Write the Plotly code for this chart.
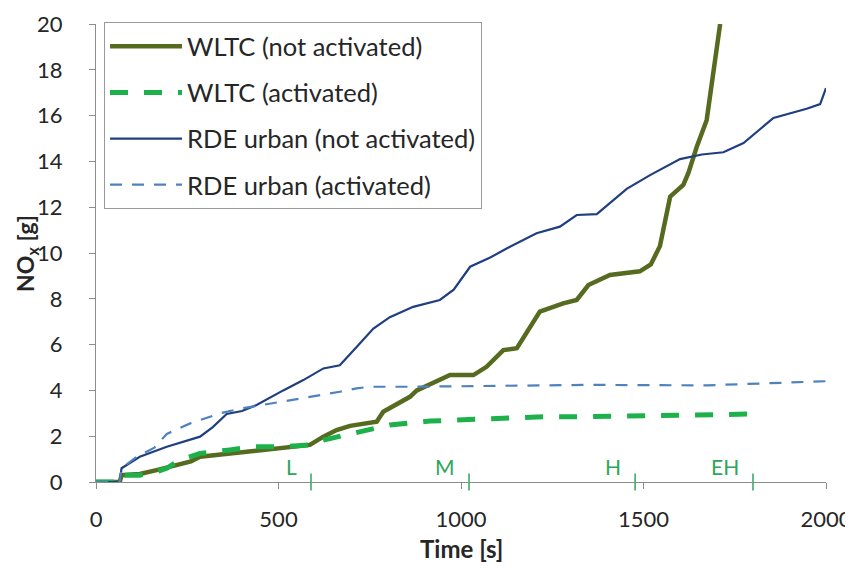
import plotly.graph_objects as go

# ---- data (time [s], cumulative NOx [g]) ----
wltc_na_t = [0, 65, 70, 120, 166, 221, 260, 285, 367, 430, 486, 586, 623, 659, 696, 740, 769, 787, 860, 879, 933, 970, 1034, 1070, 1116, 1153, 1216, 1250, 1280, 1317, 1349, 1408, 1490, 1520, 1545, 1573, 1609, 1623, 1646, 1673, 1710]
wltc_na_v = [0, 0, 0.3, 0.35, 0.52, 0.74, 0.9, 1.1, 1.25, 1.35, 1.47, 1.62, 1.98, 2.27, 2.45, 2.55, 2.63, 3.07, 3.72, 4.0, 4.38, 4.67, 4.67, 5.03, 5.76, 5.84, 7.44, 7.65, 7.8, 7.95, 8.6, 9.04, 9.2, 9.5, 10.3, 12.46, 12.97, 13.5, 14.64, 15.8, 20.0]

wltc_a_t = [0, 65, 70, 120, 166, 194, 230, 285, 367, 431, 513, 586, 623, 687, 714, 805, 915, 1006, 1116, 1225, 1335, 1460, 1618, 1800]
wltc_a_v = [0, 0, 0.3, 0.3, 0.45, 0.6, 0.96, 1.25, 1.4, 1.54, 1.54, 1.62, 1.83, 2.05, 2.13, 2.49, 2.66, 2.71, 2.78, 2.85, 2.85, 2.88, 2.93, 2.97]

rde_na_t = [0, 65, 70, 120, 194, 240, 285, 320, 358, 400, 440, 513, 568, 623, 668, 714, 760, 805, 869, 942, 980, 1025, 1080, 1125, 1207, 1271, 1317, 1372, 1454, 1518, 1600, 1660, 1719, 1774, 1856, 1947, 1984, 2000]
rde_na_v = [0, 0, 0.6, 1.1, 1.54, 1.75, 1.98, 2.4, 2.97, 3.1, 3.36, 4.0, 4.45, 4.96, 5.1, 5.9, 6.7, 7.2, 7.65, 7.95, 8.4, 9.4, 9.8, 10.2, 10.86, 11.15, 11.66, 11.7, 12.8, 13.4, 14.1, 14.3, 14.4, 14.8, 15.9, 16.3, 16.5, 17.2]

rde_a_t = [0, 65, 70, 111, 160, 194, 258, 340, 395, 486, 595, 668, 714, 751, 869, 1098, 1344, 1673, 1800, 1975, 2000]
rde_a_v = [0, 0, 0.6, 1.1, 1.5, 2.1, 2.56, 3.0, 3.2, 3.44, 3.72, 3.94, 4.09, 4.16, 4.16, 4.2, 4.24, 4.22, 4.3, 4.38, 4.4]

phase_labels = ["L", "M", "H", "EH"]
phase_ends = [589, 1022, 1477, 1800]

FONT = "Lato"
TXT = "#262626"
PHASE_GREEN = "#2ea65a"
fig = go.Figure()

fig.add_trace(go.Scatter(x=wltc_na_t, y=wltc_na_v, mode="lines", name="WLTC (not activated)",
                         legendgroup="a", line=dict(color="#566b1f", width=4.5)))
fig.add_trace(go.Scatter(x=wltc_a_t, y=wltc_a_v, mode="lines", name="WLTC (activated)",
                         legendgroup="b", line=dict(color="#1db14b", width=5, dash="18px,16px")))
fig.add_trace(go.Scatter(x=rde_na_t, y=rde_na_v, mode="lines", name="RDE urban (not activated)",
                         legendgroup="c", line=dict(color="#1f3f80", width=2.2)))
fig.add_trace(go.Scatter(x=rde_a_t, y=rde_a_v, mode="lines", name="RDE urban (activated)",
                         legendgroup="d", line=dict(color="#4f81bd", width=2.2, dash="12px,10px")))

# phase boundary ticks
fig.add_trace(go.Scatter(x=phase_ends, y=[0] * len(phase_ends), mode="markers", showlegend=False,
                         cliponaxis=False, hoverinfo="skip",
                         marker=dict(symbol="line-ns-open", size=12, color=PHASE_GREEN,
                                     line=dict(color=PHASE_GREEN, width=1.5))))
for lab, t in zip(phase_labels, phase_ends):
    fig.add_annotation(x=t - 32, y=0.05, xref="x", yref="y", text=lab, showarrow=False,
                       xanchor="right", yanchor="bottom",
                       font=dict(family=FONT, size=21, color=PHASE_GREEN))

# axis titles
fig.add_annotation(x=0.5, y=-0.146, xref="paper", yref="paper", text="<b>Time [s]</b>",
                   showarrow=False, xanchor="center", yanchor="middle",
                   font=dict(family=FONT, size=24, color=TXT))
fig.add_annotation(x=-0.096, y=0.5, xref="paper", yref="paper", text="<b>NO<sub>x</sub> [g]</b>",
                   showarrow=False, xanchor="center", yanchor="middle", textangle=-90,
                   font=dict(family=FONT, size=23, color=TXT))

# the page body adds an 8px offset, margins compensate for it
fig.update_layout(
    width=853, height=570,
    margin=dict(l=88, r=35, t=16, b=96, autoexpand=False),
    plot_bgcolor="white", paper_bgcolor="white",
    font=dict(family=FONT, size=22, color=TXT),
    showlegend=True,
    legend=dict(x=0.011, y=1.004, xanchor="left", yanchor="top",
                bordercolor="#9a9a9a", borderwidth=1, bgcolor="white",
                font=dict(family=FONT, size=25.5, color=TXT),
                itemwidth=72, tracegroupgap=10, traceorder="grouped"),
    xaxis=dict(range=[0, 2000], dtick=500, showgrid=False, zeroline=False, automargin=False,
               showline=True, linecolor="#8c8c8c", linewidth=1,
               ticks="outside", ticklen=6, tickcolor="#8c8c8c", ticklabelstandoff=12,
               tickfont=dict(family=FONT, size=22, color=TXT)),
    yaxis=dict(range=[0, 20], dtick=2, showgrid=False, zeroline=False, automargin=False,
               showline=True, linecolor="#8c8c8c", linewidth=1,
               ticks="outside", ticklen=6, tickcolor="#8c8c8c", ticklabelstandoff=22,
               tickfont=dict(family=FONT, size=22, color=TXT)),
)

fig.write_html("out.html")
